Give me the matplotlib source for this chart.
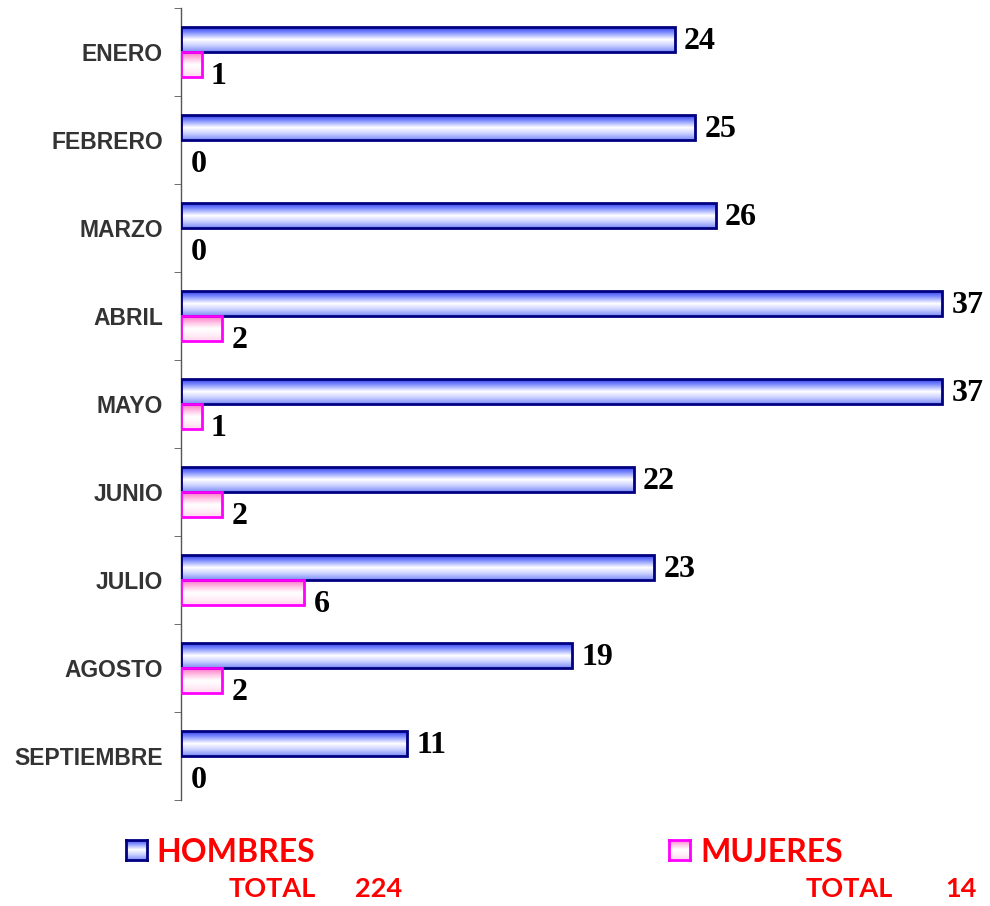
import numpy as np
import matplotlib
matplotlib.use("Agg")
import matplotlib.pyplot as plt
from matplotlib.colors import LinearSegmentedColormap

meses = ["ENERO", "FEBRERO", "MARZO", "ABRIL", "MAYO", "JUNIO", "JULIO",
         "AGOSTO", "SEPTIEMBRE"]
hombres = [24, 25, 26, 37, 37, 22, 23, 19, 11]
mujeres = [1, 0, 0, 2, 1, 2, 6, 2, 0]
total_hombres = sum(hombres)
total_mujeres = sum(mujeres)

# gradients (top -> bottom)
cmap_h = LinearSegmentedColormap.from_list(
    "h", ["#2f3ff0", "#8f9cff", "#ffffff", "#c8ceff", "#7d8cf5"])
cmap_m = LinearSegmentedColormap.from_list(
    "m", ["#ff70c8", "#ffc0e4", "#ffffff", "#fff0f8", "#ffd6ee"])
grad = np.linspace(0, 1, 64).reshape(-1, 1)

W, H = 990, 906
fig = plt.figure(figsize=(W / 100, H / 100), dpi=100)
ax = fig.add_axes([181 / W, (H - 800) / H, (W - 181) / W, 792 / H])

n = len(meses)
y = np.arange(n)
bh = 0.28


def gradient_bar(x0, w, y0, h, cmap, edge):
    if w <= 0:
        return
    r = ax.barh(y0 + h / 2, w, height=h, left=x0, facecolor="none",
                edgecolor=edge, linewidth=2, zorder=3)[0]
    im = ax.imshow(grad, cmap=cmap, aspect="auto",
                   extent=(x0, x0 + w, y0 + h, y0), zorder=2)
    im.set_clip_path(r)


for i in range(n):
    gradient_bar(0, hombres[i], y[i] - bh, bh, cmap_h, "#000080")
    gradient_bar(0, mujeres[i], y[i], bh, cmap_m, "#ff00ff")
    ax.text(hombres[i] + 0.45, y[i] - bh / 2 + 0.02, str(hombres[i]),
            ha="left", va="center", fontsize=23, fontweight="bold",
            family="Liberation Serif", color="black")
    ax.text(mujeres[i] + 0.45, y[i] + bh / 2 + 0.14, str(mujeres[i]),
            ha="left", va="center", fontsize=23, fontweight="bold",
            family="Liberation Serif", color="black")

ax.set_xlim(0, (W - 181) / 20.57)
ax.set_ylim(n - 0.5, -0.5)

for s in ["top", "right", "bottom"]:
    ax.spines[s].set_visible(False)
ax.spines["left"].set_color("#555555")
ax.spines["left"].set_linewidth(1)
ax.set_xticks([])
ax.set_yticks(y)
ax.set_yticklabels(meses, fontsize=16.5, fontweight="bold",
                   family="Liberation Sans", color="#333333")
ax.tick_params(axis="y", which="major", length=0, pad=13)
ax.set_yticks(np.arange(n + 1) - 0.5, minor=True)
ax.tick_params(axis="y", which="minor", length=5, color="#555555")


def legend_box(x, cmap, edge):
    lax = fig.add_axes([x / W, (H - 860) / H, 21 / W, 20 / H])
    lax.imshow(grad, cmap=cmap, aspect="auto")
    lax.set_xticks([])
    lax.set_yticks([])
    for s in lax.spines.values():
        s.set_color(edge)
        s.set_linewidth(2)


legend_box(126, cmap_h, "#000080")
legend_box(669, cmap_m, "#ff00ff")

red = "#ff0000"
fig.text(156 / W, 1 - 862 / H, "HOMBRES", fontsize=23, fontweight="bold",
         family="Lato", color=red, va="baseline")
fig.text(700 / W, 1 - 862 / H, "MUJERES", fontsize=23, fontweight="bold",
         family="Lato", color=red, va="baseline")
fig.text(229 / W, 1 - 897 / H, "TOTAL", fontsize=19.5, fontweight="bold",
         family="Lato", color=red, va="baseline")
fig.text(355 / W, 1 - 897 / H, str(total_hombres), fontsize=19.5,
         fontweight="bold", family="Lato", color=red, va="baseline")
fig.text(806 / W, 1 - 897 / H, "TOTAL", fontsize=19.5, fontweight="bold",
         family="Lato", color=red, va="baseline")
fig.text(945 / W, 1 - 897 / H, str(total_mujeres), fontsize=19.5,
         fontweight="bold", family="Lato", color=red, va="baseline")

fig.savefig("out.png", dpi=100)
